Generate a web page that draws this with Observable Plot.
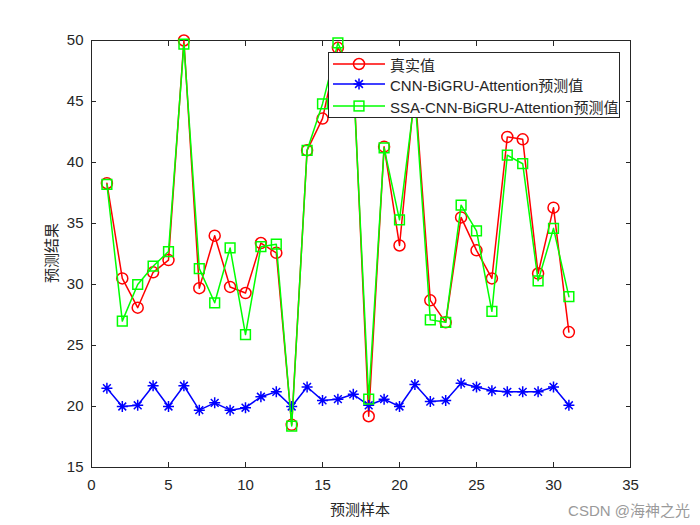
<!DOCTYPE html>
<html><head><meta charset="utf-8">
<script src="https://cdn.jsdelivr.net/npm/d3@7"></script>
<script src="https://cdn.jsdelivr.net/npm/@observablehq/plot@0.6"></script>
<style>
body{margin:0;background:#fff;}
#wrap{position:relative;width:700px;height:525px;background:#fff;font-family:"Liberation Sans",Arial,"Noto Sans CJK SC",sans-serif;color:#262626;}
.lbl{position:absolute;font-family:"Noto Sans CJK SC",sans-serif;font-size:15px;color:#262626;white-space:nowrap;line-height:1;}
#legend{position:absolute;left:328px;top:52px;width:292px;height:66px;border:1px solid #262626;background:#fff;box-sizing:border-box;}
.row{position:absolute;left:0;height:20px;display:flex;align-items:center;}
.row span{font-size:15px;margin-left:3px;font-family:"Liberation Sans",Arial,"Noto Sans CJK SC",sans-serif;}
#wm{position:absolute;right:10px;top:499px;font-size:15px;color:#9a9a9a;font-family:"Liberation Sans","Noto Sans CJK SC",sans-serif;}
</style></head><body><div id="wrap"></div>
<script>
const samples = [1,2,3,4,5,6,7,8,9,10,11,12,13,14,15,16,17,18,19,20,21,22,23,24,25,26,27,28,29,30,31];
const trueVals = [38.3,30.5,28.1,31.0,32.0,50.0,29.7,34.0,29.8,29.3,33.4,32.6,18.5,41.0,43.6,49.4,47.5,19.2,41.3,33.2,46.0,28.7,26.9,35.5,32.8,30.5,42.1,41.9,30.9,36.3,26.1];
const cnnVals = [21.5,20.0,20.1,21.7,20.0,21.7,19.7,20.3,19.7,19.9,20.8,21.2,20.0,21.6,20.5,20.6,21.0,20.1,20.6,20.0,21.8,20.4,20.5,21.9,21.6,21.3,21.2,21.2,21.2,21.6,20.1];
const ssaVals = [38.2,27.0,30.0,31.5,32.7,49.7,31.3,28.5,33.0,25.9,33.1,33.3,18.4,41.0,44.8,49.8,47.0,20.6,41.2,35.3,45.5,27.1,26.9,36.5,34.4,27.8,40.6,39.9,30.3,34.6,29.0];
const seriesNames = ["真实值","CNN-BiGRU-Attention预测值","SSA-CNN-BiGRU-Attention预测值"];
const seriesColors = ["#ff0000","#0000ff","#00ff00"];
const xTicks = [0,5,10,15,20,25,30,35];
const yTicks = [15,20,25,30,35,40,45,50];
const xLabel = "预测样本";
const yLabel = "预测结果";
const watermark = "CSDN @海神之光";

const data = samples.map((s,i)=>({s, t:trueVals[i], c:cnnVals[i], g:ssaVals[i]}));

// 8-armed asterisk like MATLAB '*'
const star8 = {draw(ctx, size){ const r = Math.sqrt(size/Math.PI); const d = r*Math.SQRT1_2;
  ctx.moveTo(-r,0); ctx.lineTo(r,0); ctx.moveTo(0,-r); ctx.lineTo(0,r);
  ctx.moveTo(-d,-d); ctx.lineTo(d,d); ctx.moveTo(-d,d); ctx.lineTo(d,-d);}};

const plot = Plot.plot({
  width:700, height:525, marginLeft:91, marginRight:70, marginTop:40, marginBottom:58,
  style:{fontFamily:'"Liberation Sans", Arial, sans-serif', fontSize:"15px", color:"#262626", background:"#fff", overflow:"visible"},
  x:{domain:[0,35]},
  y:{domain:[15,50]},
  marks:[
    Plot.axisX({ticks:xTicks, tickSize:-5, tickPadding:17, label:null, fontSize:15}),
    Plot.axisX({anchor:"top", ticks:xTicks, tickSize:-5, tickFormat:()=>"", label:null}),
    Plot.axisY({ticks:yTicks, tickSize:-5, tickPadding:13, label:null, fontSize:15}),
    Plot.axisY({anchor:"right", ticks:yTicks, tickSize:-5, tickFormat:()=>"", label:null}),
    Plot.frame({stroke:"#262626"}),
    Plot.line(data, {x:"s", y:"t", stroke:seriesColors[0], strokeWidth:1.5}),
    Plot.dot(data, {x:"s", y:"t", r:5.5, symbol:"circle", stroke:seriesColors[0], fill:"none", strokeWidth:1.5}),
    Plot.line(data, {x:"s", y:"c", stroke:seriesColors[1], strokeWidth:1.5}),
    Plot.dot(data, {x:"s", y:"c", r:5.5, symbol:star8, stroke:seriesColors[1], fill:"none", strokeWidth:1.5}),
    Plot.line(data, {x:"s", y:"g", stroke:seriesColors[2], strokeWidth:1.5}),
    Plot.dot(data, {x:"s", y:"g", r:5.5, symbol:"square", stroke:seriesColors[2], fill:"none", strokeWidth:1.5})
  ]
});
const wrap = document.getElementById("wrap");
wrap.appendChild(plot);

const xl = document.createElement("div"); xl.className="lbl"; xl.textContent = xLabel;
xl.style.left="360px"; xl.style.top="508px"; xl.style.transform="translate(-50%,-50%)";
wrap.appendChild(xl);
const yl = document.createElement("div"); yl.className="lbl"; yl.textContent = yLabel;
yl.style.left="50px"; yl.style.top="253px"; yl.style.transform="translate(-50%,-50%) rotate(-90deg)";
wrap.appendChild(yl);

const wm = document.createElement("div"); wm.id="wm"; wm.textContent = watermark; wrap.appendChild(wm);

const lg = document.createElement("div"); lg.id="legend"; wrap.appendChild(lg);
const markerSvg = [
  c => `<circle cx="30" cy="10" r="5.5" fill="none" stroke="${c}" stroke-width="1.5"/>`,
  c => `<path d="M24.5,10H35.5M30,4.5V15.5M26.1,6.1L33.9,13.9M26.1,13.9L33.9,6.1" stroke="${c}" stroke-width="1.5"/>`,
  c => `<rect x="25.1" y="5.1" width="9.8" height="9.8" fill="none" stroke="${c}" stroke-width="1.5"/>`
];
const rowTops = [1, 21, 43];
seriesNames.forEach((name,i)=>{
  const r = document.createElement("div"); r.className="row"; r.style.top = rowTops[i]+"px";
  r.innerHTML = `<svg width="58" height="20"><line x1="4" y1="10" x2="56" y2="10" stroke="${seriesColors[i]}" stroke-width="1.5"/>${markerSvg[i](seriesColors[i])}</svg><span>${name}</span>`;
  lg.appendChild(r);
});
</script></body></html>
